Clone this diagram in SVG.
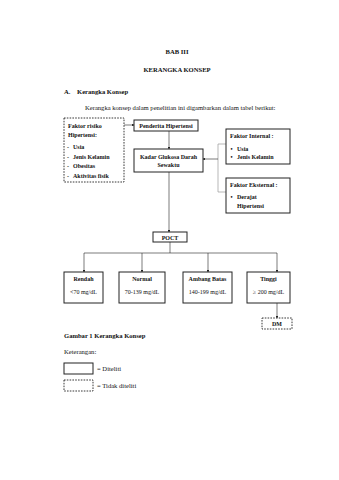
<svg xmlns="http://www.w3.org/2000/svg" width="339" height="480" viewBox="0 0 339 480">
<style>
text{font-family:"Liberation Serif","Times New Roman",serif;fill:#111}
.h{font-size:6.6px;font-weight:bold}
.p{font-size:6.6px}
.b{font-size:6px;font-weight:bold}
.n{font-size:6px}
.box{fill:#fff;stroke:#222;stroke-width:1}
.dbox{fill:#fff;stroke:#222;stroke-width:0.9;stroke-dasharray:1.6,1.2}
.ln{stroke:#222;stroke-width:0.6;fill:none}
.gl{stroke:#999;stroke-width:0.7;fill:none}
</style>
<defs>
<marker id="ah" viewBox="0 0 6 6" refX="5" refY="3" markerWidth="4" markerHeight="4" orient="auto"><path d="M0,0L6,3L0,6z" fill="#222"/></marker>
</defs>
<rect width="339" height="480" fill="#fff"/>
<text class="h" x="177" y="54" text-anchor="middle">BAB III</text>
<text class="h" x="177" y="72" text-anchor="middle">KERANGKA KONSEP</text>
<text class="h" x="64" y="94">A.</text>
<text class="h" x="77" y="94">Kerangka Konsep</text>
<text class="p" x="85" y="110">Kerangka konsep dalam penelitian ini digambarkan dalam tabel berikut:</text>

<g id="connectors">
<line class="ln" x1="124" y1="125" x2="134" y2="125" marker-end="url(#ah)"/>
<line class="ln" x1="169" y1="131" x2="169" y2="149" marker-end="url(#ah)"/>
<polyline class="gl" points="226,144 218,144 218,192 226,192"/>
<line class="ln" x1="218" y1="159" x2="203" y2="159" marker-end="url(#ah)"/>
<line class="ln" x1="169" y1="172" x2="169" y2="232" marker-end="url(#ah)"/>
<line class="ln" x1="170" y1="242" x2="170" y2="253"/>
<line class="ln" x1="84" y1="253" x2="277" y2="253"/>
<line class="ln" x1="84" y1="253" x2="84" y2="272" marker-end="url(#ah)"/>
<line class="ln" x1="142" y1="253" x2="142" y2="272" marker-end="url(#ah)"/>
<line class="ln" x1="208" y1="253" x2="208" y2="272" marker-end="url(#ah)"/>
<line class="ln" x1="277" y1="253" x2="277" y2="272" marker-end="url(#ah)"/>
<line class="ln" x1="277" y1="303" x2="277" y2="318" marker-end="url(#ah)"/>
</g>

<g id="faktor-risiko">
<rect class="dbox" x="64" y="118" width="60" height="64"/>
<text class="b" x="68" y="128">Faktor risiko</text>
<text class="b" x="68" y="137">Hipertensi:</text>
<text class="b" x="67" y="149">-</text><text class="b" x="73" y="149">Usia</text>
<text class="b" x="67" y="158.5">-</text><text class="b" x="73" y="158.5">Jenis Kelamin</text>
<text class="b" x="67" y="168">-</text><text class="b" x="73" y="168">Obesitas</text>
<text class="b" x="67" y="177.5">-</text><text class="b" x="73" y="177.5">Aktivitas fisik</text>
</g>

<g id="penderita">
<rect class="box" x="134" y="120" width="64" height="11"/>
<text class="b" x="166" y="127.5" text-anchor="middle">Penderita Hipertensi</text>
</g>

<g id="kadar">
<rect class="box" x="134" y="149" width="69" height="23"/>
<text class="b" x="168.5" y="158.5" text-anchor="middle">Kadar Glukosa Darah</text>
<text class="b" x="168.5" y="166.5" text-anchor="middle">Sewaktu</text>
</g>

<g id="faktor-internal">
<rect class="box" x="226" y="129" width="64" height="35"/>
<text class="b" x="230" y="138">Faktor Internal :</text>
<text class="b" x="230.5" y="151">•</text><text class="b" x="237" y="151">Usia</text>
<text class="b" x="230.5" y="159">•</text><text class="b" x="237" y="159">Jenis Kelamin</text>
</g>

<g id="faktor-eksternal">
<rect class="box" x="226" y="178" width="64" height="35"/>
<text class="b" x="230" y="187">Faktor Eksternal :</text>
<text class="b" x="230.5" y="199">•</text><text class="b" x="237" y="199">Derajat</text>
<text class="b" x="237" y="208">Hipertensi</text>
</g>

<g id="poct">
<rect class="box" x="153" y="232" width="34" height="10"/>
<text class="b" x="170" y="239.5" text-anchor="middle">POCT</text>
</g>

<g id="rendah">
<rect class="box" x="64" y="272" width="39" height="31"/>
<text class="b" x="83.5" y="281" text-anchor="middle">Rendah</text>
<text class="n" x="83.5" y="294" text-anchor="middle">&lt;70 mg/dL</text>
</g>
<g id="normal">
<rect class="box" x="119" y="272" width="46" height="31"/>
<text class="b" x="142" y="281" text-anchor="middle">Normal</text>
<text class="n" x="142" y="294" text-anchor="middle">70-139 mg/dL</text>
</g>
<g id="ambang">
<rect class="box" x="183" y="272" width="49" height="31"/>
<text class="b" x="207.5" y="281" text-anchor="middle">Ambang Batas</text>
<text class="n" x="207.5" y="294" text-anchor="middle">140-199 mg/dL</text>
</g>
<g id="tinggi">
<rect class="box" x="247" y="272" width="43" height="31"/>
<text class="b" x="268.5" y="281" text-anchor="middle">Tinggi</text>
<text class="n" x="268.5" y="294" text-anchor="middle">≥ 200 mg/dL</text>
</g>
<g id="dm">
<rect class="dbox" x="262" y="318" width="30" height="11"/>
<text class="b" x="277" y="325.5" text-anchor="middle">DM</text>
</g>

<text class="h" x="64" y="338">Gambar 1 Kerangka Konsep</text>
<text class="p" x="64" y="354">Keterangan:</text>
<g id="legend-diteliti">
<rect class="box" x="64" y="363" width="29" height="11"/>
<text class="p" x="97" y="370.5">= Diteliti</text>
</g>
<g id="legend-tidak">
<rect class="dbox" x="64" y="380" width="29" height="11"/>
<text class="p" x="97" y="387.5">= Tidak diteliti</text>
</g>
</svg>
